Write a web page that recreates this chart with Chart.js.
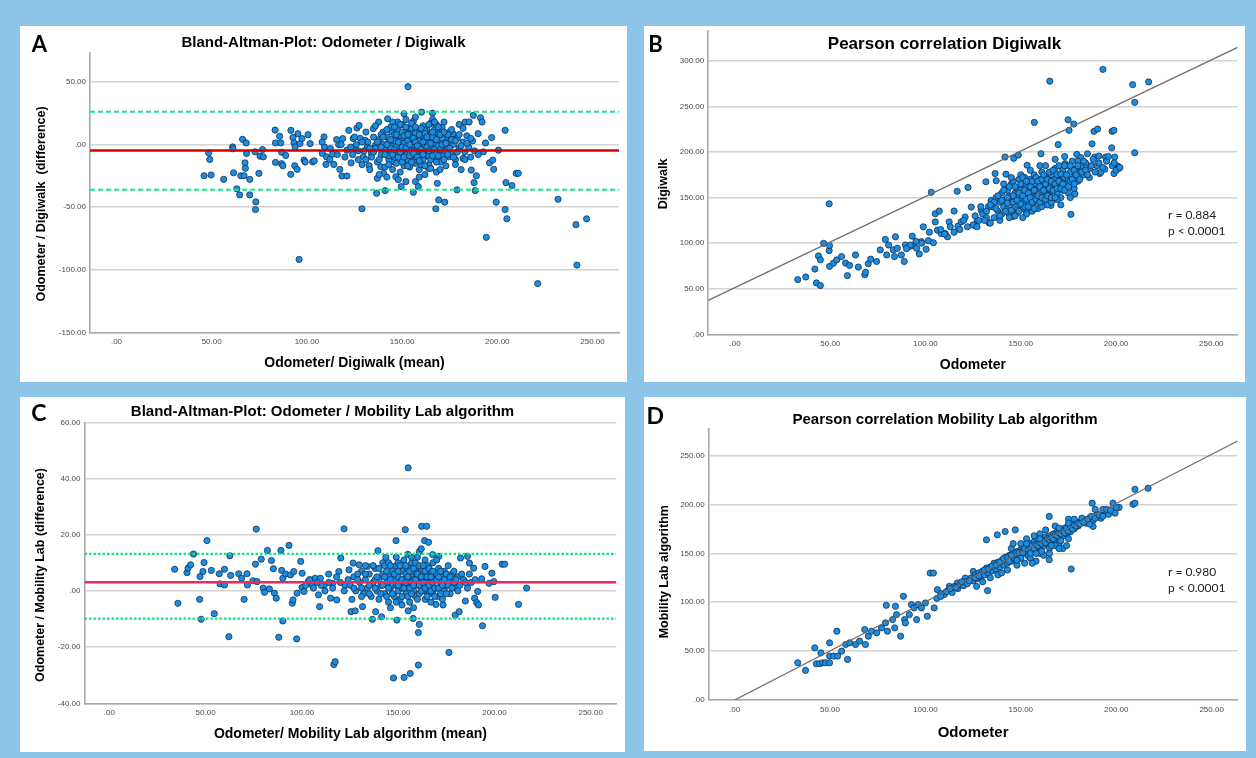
<!DOCTYPE html>
<html><head><meta charset="utf-8">
<script src="https://cdn.jsdelivr.net/npm/chart.js@4"></script>
<style>
html,body{margin:0;padding:0;background:#8CC5E7;width:1256px;height:758px;overflow:hidden;}
.panel{position:absolute;background:#fff;}
canvas{display:block;}
</style></head><body>
<div class="panel" style="left:20px;top:26px;width:607px;height:356px"><canvas id="cA" width="607" height="356"></canvas></div>
<div class="panel" style="left:644px;top:26px;width:601px;height:356px"><canvas id="cB" width="601" height="356"></canvas></div>
<div class="panel" style="left:20px;top:397px;width:605px;height:355px"><canvas id="cC" width="605" height="355"></canvas></div>
<div class="panel" style="left:644px;top:397px;width:602px;height:354px"><canvas id="cD" width="602" height="354"></canvas></div>
<script>
// ---------- DATA ----------
const xTickValues = [0, 50, 100, 150, 200, 250];
const yTicksA = [-150, -100, -50, 0, 50];
const yTicksB = [0, 50, 100, 150, 200, 250, 300];
const yTicksC = [-40, -20, 0, 20, 40, 60];
const yTicksD = [0, 50, 100, 150, 200, 250];

// A: Bland-Altman Odometer / Digiwalk  [mean, difference]
const baDigiwalk = [
[46,-24.9],[48.4,-6.6],[49,-11.9],[49.7,-24.3],[56.3,-27.8],[61,-1.9],[61.2,-3.4],[61.5,-22.5],[63.2,-35.4],[64.7,-40.2],
[65.3,-24.9],[66.2,4.2],[67,-24.9],[67.5,-14.6],[67.7,-19],[68.1,1.3],[68.3,-7.1],[70,-27.8],[70,-40.2],[72.8,-5.8],
[73.2,-45.8],[73,-51.9],[74.8,-23],[75.4,-9.3],[76.7,-4],[77.1,-9.8],[83.3,11.6],[83.5,1.3],[83.5,-14.3],[85.7,6.6],
[86.3,1.3],[86.7,-6.1],[86.7,-15.3],[87.4,-16.9],[88.9,-8.7],[91.5,-23.8],[91.6,11.4],[92.7,5.6],[93.2,1.3],[93.6,-16.9],
[93.8,-1.9],[94.9,-19.8],[95.3,8.7],[95.9,-91.8],[96.4,0.8],[97.4,4.8],[98.5,-12.4],[99.1,-14],[100.6,7.9],[101.7,0.8],
[103,-13.8],[103.9,-13],[108.1,-7.1],[109,6.1],[109.2,-1.9],[110,-15.9],[110.3,-9.8],[112.4,-3.2],[113.5,-7.7],[114.1,-15.9],
[115.6,4],[116.7,0],[117.3,-19.8],[118.4,-25.1],[118.8,4.8],[121,-25.1],[121,-4.5],[122,11.4],[123.2,-14.6],[124.3,4.8],
[125.3,-3.2],[126.3,13.2],[127.4,15.3],[128.9,-51.3],[129.6,-9.8],[130.6,3.4],[131.7,-1.9],[132.7,-16.9],[133.8,-7.1],[134.9,12.7],
[136,-0.5],[136.6,-38.9],[137,-27],[137.7,18],[138.8,-17.7],[140.3,-23],[141.1,-36.8],[142.4,20.6],[143.5,-7.1],[144.5,10.1],
[145.6,-13.8],[146.7,-25.7],[147.7,18],[149.5,-33.6],[151,24.6],[152,-29.6],[153.1,46.3],[153.7,3.4],[154.8,8.7],[155.9,-38.1],
[157,-29.6],[158.5,-33.6],[160.2,25.9],[161.7,-9.8],[163.8,-19],[166,25.1],[167.7,-51.3],[168.5,-31],[169.2,-44.2],[170.2,11.4],
[172.4,-46],[174.5,-9.8],[176.7,8.7],[178.8,-36.2],[180,16.1],[182,-11.1],[183.1,18],[185.2,18],[186.3,-20.4],[187.4,23.3],
[187.8,-30.4],[188.4,-36.8],[189,-24.9],[189.9,8.7],[191.2,21.4],[192,18],[192.7,-5.8],[193.8,1.3],[194.2,-74.1],[195.9,-14.6],
[197,5.6],[197.6,-12.4],[198.1,-19.8],[199.4,-46],[200.6,-4.5],[204.1,11.4],[204.1,-51.9],[204.5,-30.4],[205,-59.3],[207.7,-32.8],
[209.9,-23],[211,-23],[221.2,-111.1],[231.9,-43.7],[241.3,-64],[241.8,-96.3],[246.9,-59.3],
[130,-5],[132,2],[134,-10],[135,6],[136,-3],[137,-14],[138,4],[139,-8],[140,0],[140,10],[141,-18],[141,-4],[142,6],[143,-12],
[143,2],[144,-6],[144,14],[145,-20],[145,-1],[146,8],[146,-10],[147,3],[147,-15],[148,-5],[148,11],[149,-2],[149,-22],[150,5],
[150,-9],[150,16],[151,-4],[151,1],[152,-13],[152,9],[153,-7],[153,3],[154,-18],[154,13],[155,-2],[155,6],[155,-10],[156,0],
[156,19],[157,-6],[157,-15],[158,4],[158,10],[159,-3],[159,-20],[160,1],[160,7],[160,-8],[161,15],[161,-12],[162,-1],[162,4],
[163,-5],[163,12],[164,-16],[164,2],[165,8],[165,-7],[166,-2],[166,20],[167,5],[167,-11],[168,0],[168,-22],[169,9],[169,-4],
[170,3],[170,-14],[171,14],[171,-6],[172,-1],[173,6],[173,-17],[174,-3],[175,2],[175,10],[176,-8],[177,0],[178,-12],[179,5],
[180,-3],[181,-20],[182,2],[183,-6],[184,7],[185,-2],[186,-10],[188,-5],[124,-8],[126,0],[127,-12],[128,5],[129,-16],[131,10],
[133,-20],[136,15],[138,-24],[142,-26],[145,18],[148,-28],[152,20],[157,22],[159,-26],[162,-24],[165,17],[170,-20],[172,18],
[176,12],[178,-16],[182,13],[187,3],[190,-8],[139,8],[147,-1],[153,-12],[158,-3],[163,1],[167,12],[171,-9],[161,-5],[157,9],
[151,-17],[146,3],[144,-3],[149,7],[154,-5],[156,-13],[159,3],[164,-9],[166,6],[169,-1],[174,8],[177,4],[143,-9],[150,-14],
[160,-16],[165,-19],[155,13],[162,11],[168,16],[171,5],
[135,-6],[137,2],[138,-12],[139,-2],[140,6],[141,-8],[142,0],[142,12],[143,-16],[144,4],[145,-8],[146,-4],[146,14],[147,8],
[148,-10],[148,2],[149,-6],[149,16],[150,-2],[150,10],[151,-10],[151,7],[152,-3],[152,14],[153,-17],[153,8],[154,0],[154,-9],
[155,-14],[155,17],[156,5],[156,-7],[157,2],[157,14],[158,-10],[158,-1],[159,8],[159,-13],[160,-4],[160,13],[161,2],[161,-8],
[162,9],[162,-17],[163,-2],[163,6],[164,-5],[164,16],[165,1],[165,-12],[166,10],[166,-9],[167,-4],[167,18],[168,4],[168,-14],
[169,-9],[169,14],[170,-4],[170,8],[171,0],[172,-12],[172,10],[173,1],[174,-8],[175,-3],[176,4],[177,-10],[178,3],[179,-6],
[180,8],[181,-1],[183,-12],[184,1],[186,5],[133,-3],[131,-12],[129,2],[127,-5],[125,6],[123,-2],[120,-10],[118,0],[116,-8],
[112,-12],[108,2]
];
const meanDiffA = -4.8;
const limitsA = [26.2, -36.1];

// B: Pearson correlation Digiwalk  [Odometer, Digiwalk]
const corrDigiwalk = [
[32.9,60],[37.1,62.9],[41.9,71.6],[42.7,56.4],[43.8,86],[44.8,81.7],[44.8,53.5],[46.5,99.8],[49.4,143.2],[49.4,91.8],
[49.6,97.3],[49.6,74.5],[51.7,78.1],[53.4,81.7],[55.9,85.3],[58,78.1],[59,64.4],[60.1,75.6],[63.2,87.1],[64.7,73.8],
[68.1,65.4],[68.5,68],[69.9,77.4],[71.2,82.4],[74.3,79.9],[76.2,92.6],[78.9,104.1],[79.6,87.1],[80.6,98],[83.1,92.6],
[83.7,85.3],[84.2,107],[85.2,94.4],[87.3,87.1],[88.8,79.9],[89.4,98],[91.5,96.2],[93,107.7],[94,96.9],[95.3,94.4],
[96.7,88.2],[97.8,101.6],[98.8,117.9],[100.3,93.3],[101.5,102.7],[103,155.8],[104.1,100.5],[105.1,123.3],[105.1,132.3],[106.2,114.2],
[107.2,135.2],[108.2,110.6],[110.3,110.6],[111.5,107],[112.4,123.3],[115,135.2],[116.6,156.9],[117,118.6],[118.7,123.3],[120.8,128.7],
[122.3,161.2],[124,139.6],[125.4,119.7],[127.1,125.1],[129.2,135.9],[131.7,167.4],[133.4,122.2],[134.4,146.8],[136.5,176.4],[137.1,168.5],
[141.7,194.5],[142.2,175.7],[143.8,132.3],[145.9,129.4],[146.3,193.1],[148.7,196.7],[152.9,134.1],[153.3,185.5],[157.1,232.5],[160.6,198.1],
[164.8,169.2],[165.2,277.7],[165.8,141.4],[169.6,208.2],[173.2,187.3],[174.8,235.4],[175.3,223.8],[176.3,131.6],[177.8,230.7],[178.4,154],
[179.4,197.4],[181.5,193.8],[184.7,179.3],[187.4,209],[188.4,222.7],[188.9,194.5],[190.3,225.2],[191,195.6],[191.4,176.4],[193.1,290.7],
[194.1,181.1],[194.5,194.5],[197.7,204.6],[197.9,222.7],[198.9,223.8],[198.9,176.4],[199.3,194.5],[200.8,184.7],[201.6,182.2],[208.7,274],
[209.8,199.2],[209.8,254.5],[217.1,276.9],
[135,140],[136,128],[137,150],[138,135],[139,145],[140,155],[140,132],[141,140],[142,148],[142,160],[143,137],[144,152],[144,128],
[145,145],[145,165],[146,138],[147,155],[147,148],[148,133],[148,160],[149,170],[149,142],[150,150],[150,158],[151,138],[151,165],
[152,146],[152,172],[153,155],[153,132],[154,162],[154,148],[155,140],[155,170],[156,155],[156,160],[157,145],[157,175],[158,152],
[158,165],[159,138],[159,160],[160,170],[160,150],[161,158],[161,178],[162,145],[162,165],[163,155],[163,172],[164,160],[164,142],
[165,168],[165,152],[166,175],[166,158],[167,163],[167,148],[168,170],[168,182],[169,155],[169,165],[170,175],[170,160],[171,150],
[171,168],[172,180],[172,158],[173,172],[174,165],[174,185],[175,155],[175,170],[176,178],[177,162],[177,190],[178,172],[179,182],
[180,168],[181,178],[182,185],[183,175],[184,188],[186,182],[188,192],[190,185],[192,178],[195,190],[198,185],[200,180],[128,125],
[130,132],[132,128],[133,140],[134,122],[125,120],[126,130],[122,118],[120,125],[118,115],[115,112],[113,118],[110,110],[108,115],
[102,112],[98,100],[95,102],[92,98],[90,94],[139,125],[143,158],[146,168],[152,140],[157,150],[161,140],[166,145],[171,142],
[176,150],[178,160],[180,190],[186,172],[185,198],[150,175],[155,180],[160,185],[145,172],[141,165],[163,185],[168,192],[173,195],
[151,128],[147,130],[156,135],[162,150],[169,148],
[136,145],[137,138],[138,152],[139,130],[140,147],[141,158],[142,135],[143,150],[143,144],[144,162],[145,136],[146,152],[146,145],
[147,162],[148,147],[149,155],[149,135],[150,165],[150,143],[151,152],[151,172],[152,158],[153,148],[153,168],[154,140],[154,155],
[155,162],[155,150],[156,168],[156,145],[157,158],[157,138],[158,172],[158,148],[159,152],[159,168],[160,162],[160,145],[161,150],
[161,170],[162,158],[162,175],[163,148],[163,165],[164,170],[164,152],[165,160],[165,178],[166,150],[166,168],[167,158],[167,180],
[168,150],[168,165],[169,175],[169,160],[170,168],[170,185],[171,160],[171,176],[172,165],[173,158],[173,185],[174,175],[175,162],
[176,168],[176,185],[177,170],[178,180],[178,165],[179,175],[180,185],[181,170],[182,178],[183,190],[184,180],[185,175],[187,185],
[189,178],[191,188],[193,183],[196,195],[199,188],[202,183],[132,135],[134,142],[131,125],[129,140],[127,118]
];
const fitLineB = [[-14.1, 37.2], [263.8, 314.9]];
const statsB = ['r = 0.884', 'p < 0.0001'];

// C: Bland-Altman Odometer / Mobility Lab algorithm  [mean, difference]
const baMobility = [
[33.9,7.7],[35.6,-4.4],[40.3,6.5],[40.9,8.1],[42.2,9.3],[43.7,13.1],[46.9,-3],[47.1,5.1],[47.7,-10.1],[48.6,6.9],
[49.2,10.1],[50.7,17.9],[53,7.3],[54.5,-8.1],[57.1,6.1],[57.5,2.5],[59.8,7.7],[59.8,2.1],[62.1,-16.3],[62.6,12.5],
[63,5.5],[67.2,6.1],[68.7,4.5],[70,-3],[71.5,6.1],[71.7,2.1],[74.6,3.6],[75.9,9.5],[76.3,22],[76.7,3.3],
[78.9,11.3],[79.9,1],[80.6,-0.5],[82.1,14.4],[83.1,0.7],[84.2,10.8],[85.2,7.9],[85.7,-0.8],[86.7,-2.6],[88,-16.5],
[89.1,14.4],[89.5,7.3],[90.1,4.5],[90.1,-10.7],[91.6,6],[93.3,16.2],[94.1,5.7],[95,-4.4],[95.4,-3.2],[95.8,6.9],
[97.3,-17.1],[97.5,-0.8],[99.4,10.5],[100.1,6.3],[100.1,1.2],[101.1,-0.2],[103.3,3.3],[104.3,3.9],[105.4,2.1],[106.9,4.5],
[108.6,-1.4],[109.2,-5.6],[109.6,4.5],[111.7,2.1],[113.9,6],[114.9,-2.6],[116,2.7],[116.6,-26.2],[117.3,-25.2],[118.1,-3.2],
[119.2,6.9],[120.2,11.7],[121.9,22.1],[122.3,2.1],[124.5,7.5],[125.5,-7.4],[126.6,9.9],[127.7,-7.1],[129.8,9.3],[131.5,-5.6],
[134,8.7],[136.6,-10.1],[138.3,-7.4],[139.5,14.3],[141.4,-9.2],[143.6,11.9],[147.6,-31],[148.9,17.9],[149.3,-10.4],[153.1,-30.8],
[153.7,21.8],[155.2,-7.1],[155.2,43.8],[156.3,-29.4],[157.8,-9.8],[160.5,-14.8],[160.5,-26.4],[161,-11.9],[162.2,23],[164.8,23],
[163.7,17.9],[165.8,17.3],[167.9,12.9],[169.6,-4.8],[171.1,12.3],[173.3,-5],[176.4,-21.9],[179.6,-8.6],[181.7,-7.4],[182.4,11.7],
[184.9,-3.6],[186,12.3],[187,9.9],[189.2,8.1],[189.7,-2.6],[190.8,-4.2],[191.7,-5],[191.3,-0.2],[193.4,4.3],[193.8,-12.4],
[195.1,8.7],[197.2,2.7],[198.7,6.3],[199.7,3.3],[200.4,-2.3],[204,9.5],[205.3,9.5],[212.5,-4.8],[216.7,1],
[125,2],[127,5],[128,0],[130,3],[131,7],[132,-1],[133,4],[134,1],[135,6],[136,-2],[137,3],[138,8],[139,0],[140,4],[140,-3],
[141,2],[142,6],[142,10],[143,-1],[144,3],[145,5],[145,-4],[146,1],[147,7],[147,2],[148,-2],[148,4],[149,9],[150,0],[150,5],
[151,3],[151,-3],[152,7],[152,1],[153,11],[153,4],[154,-1],[154,6],[155,2],[155,8],[156,-4],[156,3],[157,5],[157,10],[158,0],
[158,4],[159,7],[159,-2],[160,2],[160,12],[161,5],[161,-1],[162,8],[162,3],[163,0],[163,6],[164,4],[164,-3],[165,9],[165,2],
[166,5],[166,-1],[167,7],[167,3],[168,0],[168,10],[169,4],[170,6],[170,1],[171,-2],[171,8],[172,3],[173,5],[174,0],[174,7],
[175,2],[176,4],[177,-1],[178,6],[179,3],[180,1],[181,5],[182,2],[184,4],[186,1],[188,3],[143,9],[146,-6],[149,12],[152,-5],
[155,13],[158,-6],[161,14],[164,11],[167,-4],[170,11],[173,-3],[176,9],[162,15],[157,12],[150,10],[145,10],[138,4],[135,2],
[133,9],[131,-2],[129,6],[126,-3],[124,4],[122,0],[120,3],[118,5],[116,1],[114,3],[112,0],[110,2],[108,3],[106,1],[104,4],[102,2],
[127,1],[129,4],[131,1],[133,6],[135,-1],[137,9],[138,1],[139,5],[140,8],[141,-1],[142,2],[143,5],[144,-2],[144,7],[145,1],
[146,4],[146,9],[147,-1],[148,6],[149,2],[149,-4],[150,7],[150,2],[151,9],[152,4],[152,-2],[153,1],[154,3],[154,9],[155,-2],
[155,5],[156,7],[156,1],[157,-1],[157,3],[158,8],[158,2],[159,4],[159,10],[160,-3],[160,6],[161,2],[161,9],[162,0],[162,5],
[163,3],[163,9],[164,1],[164,7],[165,-2],[165,5],[166,2],[166,8],[167,0],[167,5],[168,3],[168,7],[169,1],[169,-2],[170,4],
[171,5],[171,1],[172,7],[172,-1],[173,2],[174,4],[175,6],[175,-1],[176,2],[177,5],[178,1],[179,7],[180,4],[181,0],[183,6],
[185,3],[187,6],[190,4]
];
const meanDiffC = 3.1;
const limitsC = [13.2, -9.9];

// D: Pearson correlation Mobility Lab algorithm  [Odometer, Mobility Lab]
const corrMobility = [
[33.1,38.1],[37.2,30.3],[42,53.4],[42.9,37.1],[44.6,37.1],[45.2,48.3],[46.2,38.1],[47.7,38.1],[49.8,58.5],[49.8,38.1],
[49.8,44.9],[51.9,44.9],[53.6,70.4],[54,44.9],[56.1,50],[58.2,56.8],[59.2,41.5],[60.3,58.5],[63.4,56.8],[65.5,60.2],
[68.2,72.1],[68.6,56.8],[70.1,65.3],[71.8,70.4],[74.5,68.7],[77,73.8],[79.1,78.9],[79.5,96.9],[80.1,70.4],[82.8,82.3],
[83.9,73.8],[84.3,95.9],[84.9,87.4],[87,65.3],[88.5,106.1],[89.1,82.3],[89.5,78.9],[91.6,87.4],[92.7,97.6],[94.1,94.2],
[95.4,82.3],[96.2,97.6],[97.9,94.2],[100,99.3],[101,85.7],[102.5,129.9],[104.2,129.9],[104.6,94.2],[106.3,112.9],[108.4,107.1],
[112.6,116.3],[116.7,119.7],[120.9,124.8],[125.1,131.6],[126.8,116.3],[132,163.9],[132.6,111.9],[137.7,169],[141.8,172.4],[147.1,174.1],
[164.9,187.8],[164.9,143.5],[176.4,134],[187.4,201.4],[187.9,177.6],[198.3,201.4],[199.4,191.2],[208.8,200.3],[209.8,215.6],[216.7,216.7],
[209.8,201.4],[201.5,197],
[106,104],[108,109],[110,108],[112,112],[114,110],[115,116],[117,114],[118,118],[120,117],[121,121],[122,119],[124,125],[125,122],
[126,128],[127,124],[128,130],[129,126],[130,132],[131,128],[132,135],[133,130],[134,136],[135,132],[136,140],[137,134],[138,141],
[139,136],[140,143],[141,138],[142,146],[143,140],[144,148],[145,142],[146,150],[147,144],[148,152],[149,146],[150,154],[150,148],
[151,156],[152,150],[153,158],[154,147],[155,160],[156,152],[157,162],[158,155],[159,164],[160,156],[161,165],[162,158],[163,167],
[164,160],[165,168],[166,162],[167,170],[168,164],[169,172],[170,166],[171,174],[172,168],[173,176],[174,170],[175,178],[176,172],
[177,180],[178,175],[179,182],[180,178],[182,184],[184,181],[186,186],[188,184],[190,190],[192,186],[194,192],[196,190],[145,155],
[150,160],[155,145],[160,150],[165,155],[170,160],[175,165],[172,155],[168,158],[162,148],[158,142],[152,140],[148,138],[143,133],
[138,128],[134,125],[130,121],[140,130],[146,160],[153,165],[157,168],[160,170],[163,174],[168,178],[175,185],[178,185],[182,186],
[186,180],[189,195],[193,195],[156,140],[165,150],[170,155],[174,158],
[108,106],[111,111],[113,114],[116,115],[119,121],[123,122],[126,125],[128,127],[131,133],[133,134],[135,137],[137,138],[139,141],
[141,145],[143,146],[144,142],[146,146],[147,150],[149,151],[151,151],[152,155],[154,154],[155,156],[156,158],[157,155],[158,159],
[159,158],[160,161],[161,160],[162,163],[163,161],[164,165],[165,164],[166,166],[167,165],[168,169],[169,168],[170,171],[171,170],
[172,173],[173,171],[174,176],[175,173],[176,177],[177,175],[178,179],[179,178],[180,181],[181,180],[183,182],[185,185],[187,188],
[189,186],[191,189],[193,188],[195,195],[197,194],[200,197],[161,152],[166,158],[171,163],[145,148],[150,145],[155,150],[160,165],
[170,176],[175,181],[148,143],[153,160],[158,150]
];
const fitLineD = [[0, 0], [263.6, 265]];
const statsD = ['r = 0.980', 'p < 0.0001'];

// ---------- RENDERING ----------
const FONT = "'Liberation Sans', Arial, sans-serif";
const LETTER_FONT = "Lato, 'Open Sans', sans-serif";
const GRID = '#D3D3D3';
const AXIS = '#A9A9A9';
const TICK = '#4A4A4A';
const DOT_FILL = '#1B8EE4';
const DOT_EDGE = '#12304F';

const panelText = {
  id: 'panelText',
  afterDraw(chart, args, opts) {
    const ctx = chart.ctx;
    (opts.items || []).forEach(it => {
      ctx.save();
      ctx.font = it.font;
      ctx.fillStyle = it.color || '#000';
      ctx.textAlign = it.align || 'center';
      ctx.textBaseline = 'middle';
      ctx.translate(it.x, it.y);
      if (it.rotate) ctx.rotate(it.rotate);
      ctx.fillText(it.text, 0, 0);
      ctx.restore();
    });
  }
};
Chart.register(panelText);

const fmt = v => (v === 0 ? '.00' : Number(v).toFixed(2));
const toXY = arr => arr.map(([x, y]) => ({x, y}));

function build(p) {
  const datasets = [];
  (p.lines || []).forEach(l => datasets.push({
    data: toXY(l.data), showLine: true, pointRadius: 0, borderColor: l.color,
    borderWidth: l.width, borderDash: l.dash || [], fill: false, order: 0
  }));
  datasets.push({
    data: toXY(p.points), showLine: false, pointRadius: 3.1, pointBorderWidth: 0.8,
    pointBackgroundColor: DOT_FILL, pointBorderColor: DOT_EDGE, order: 1
  });
  const items = [
    {text: p.letter, x: p.letterX, y: p.letterY, font: 'bold ' + p.letterSize + 'px ' + LETTER_FONT},
    {text: p.yTitle, x: p.yTitleX, y: p.yTitleY, font: 'bold ' + p.yTitleSize + 'px ' + FONT, rotate: -Math.PI / 2}
  ];
  (p.stats || []).forEach((s, i) => items.push({text: s, x: p.statsX, y: p.statsY + i * 16, align: 'left', font: '12px ' + LETTER_FONT, color: '#222'}));
  new Chart(document.getElementById(p.id), {
    type: 'scatter',
    data: {datasets},
    options: {
      responsive: false, animation: false, devicePixelRatio: 1,
      layout: {padding: {left: p.pad, right: p.pad, top: 0, bottom: 0}},
      plugins: {
        legend: {display: false}, tooltip: {enabled: false},
        title: {display: true, text: p.title, color: '#000', font: {family: FONT, size: p.titleSize, weight: 'bold', lineHeight: 1.2},
                padding: {top: p.titlePadTop, bottom: p.titlePadBottom}},
        panelText: {items}
      },
      scales: {
        x: {
          type: 'linear', min: p.xMin, max: p.xMax,
          afterBuildTicks: s => { s.ticks = xTickValues.map(v => ({value: v})); },
          afterFit: s => { s.height = p.xAxisHeight; s.paddingLeft = 0; s.paddingRight = 0; },
          grid: {display: false, drawTicks: false},
          border: {display: true, color: AXIS, width: 1.6},
          ticks: {font: {family: FONT, size: 8}, color: TICK, padding: 5, maxRotation: 0, autoSkip: false, callback: fmt},
          title: {display: true, text: p.xTitle, color: '#000', font: {family: FONT, size: p.xTitleSize, weight: 'bold', lineHeight: 1.2},
                  padding: {top: 0, bottom: p.xTitlePadBottom}}
        },
        y: {
          type: 'linear', min: p.yMin, max: p.yMax,
          afterBuildTicks: s => { s.ticks = p.yTicks.map(v => ({value: v})); },
          afterFit: s => { s.width = p.yAxisWidth; s.paddingTop = 0; s.paddingBottom = 0; },
          grid: {color: GRID, lineWidth: 1.6, drawTicks: false},
          border: {display: true, color: AXIS, width: 1.6},
          ticks: {font: {family: FONT, size: 8}, color: TICK, padding: 4, autoSkip: false, callback: fmt}
        }
      }
    }
  });
}

build({
  id: 'cA', pad: 8, yAxisWidth: 62, xAxisHeight: 49.7,
  title: 'Bland-Altman-Plot: Odometer / Digiwalk', titleSize: 15, titlePadTop: 7.7, titlePadBottom: 1,
  xTitle: 'Odometer/ Digiwalk (mean)', xTitleSize: 14, xTitlePadBottom: 10.6,
  yTitle: 'Odometer / Digiwalk  (difference)', yTitleSize: 12.5, yTitleX: 22, yTitleY: 178,
  letter: 'A', letterX: 19.5, letterY: 19, letterSize: 22,
  xMin: -13.9, xMax: 263.9, yMin: -150, yMax: 73.4, yTicks: yTicksA,
  points: baDigiwalk,
  lines: [
    {data: [[-13.9, meanDiffA], [263.9, meanDiffA]], color: '#D60000', width: 2.5},
    {data: [[-13.9, limitsA[0]], [263.9, limitsA[0]]], color: '#1BE38A', width: 2, dash: [5, 3]},
    {data: [[-13.9, limitsA[1]], [263.9, limitsA[1]]], color: '#1BE38A', width: 2, dash: [5, 3]}
  ]
});

build({
  id: 'cB', pad: 7.4, yAxisWidth: 56.8, xAxisHeight: 47.7,
  title: 'Pearson correlation Digiwalk', titleSize: 17, titlePadTop: 5.5, titlePadBottom: -23.6,
  xTitle: 'Odometer', xTitleSize: 14, xTitlePadBottom: 8.6,
  yTitle: 'Digiwalk', yTitleSize: 12.5, yTitleX: 20, yTitleY: 158,
  letter: 'B', letterX: 11.5, letterY: 18.7, letterSize: 22,
  stats: statsB, statsX: 524, statsY: 189,
  xMin: -14.1, xMax: 263.8, yMin: 0, yMax: 333, yTicks: yTicksB,
  points: corrDigiwalk,
  lines: [{data: fitLineB, color: '#6E6E6E', width: 1.3}]
});

build({
  id: 'cC', pad: 8.7, yAxisWidth: 55.8, xAxisHeight: 48.7,
  title: 'Bland-Altman-Plot: Odometer / Mobility Lab algorithm', titleSize: 15, titlePadTop: 6.3, titlePadBottom: 1,
  xTitle: 'Odometer/ Mobility Lab algorithm (mean)', xTitleSize: 14, xTitlePadBottom: 9.6,
  yTitle: 'Odometer / Mobility Lab (difference)', yTitleSize: 12.5, yTitleX: 20.8, yTitleY: 178,
  letter: 'C', letterX: 18.8, letterY: 16.7, letterSize: 23,
  xMin: -12.9, xMax: 263.3, yMin: -40, yMax: 60, yTicks: yTicksC,
  points: baMobility,
  lines: [
    {data: [[-12.9, meanDiffC], [263.3, meanDiffC]], color: '#F2285A', width: 2.5},
    {data: [[-12.9, limitsC[0]], [263.3, limitsC[0]]], color: '#14E47C', width: 2.2, dash: [2.5, 2]},
    {data: [[-12.9, limitsC[1]], [263.3, limitsC[1]]], color: '#14E47C', width: 2.2, dash: [2.5, 2]}
  ]
});

build({
  id: 'cD', pad: 8.4, yAxisWidth: 56.2, xAxisHeight: 51,
  title: 'Pearson correlation Mobility Lab algorithm', titleSize: 15, titlePadTop: 14, titlePadBottom: -0.7,
  xTitle: 'Odometer', xTitleSize: 15, xTitlePadBottom: 9.3,
  yTitle: 'Mobility Lab algorithm', yTitleSize: 12.5, yTitleX: 21, yTitleY: 174.7,
  letter: 'D', letterX: 11.3, letterY: 19.3, letterSize: 23,
  stats: statsD, statsX: 524, statsY: 174.7,
  xMin: -13.6, xMax: 263.6, yMin: 0, yMax: 278, yTicks: yTicksD,
  points: corrMobility,
  lines: [{data: fitLineD, color: '#6E6E6E', width: 1.3}]
});
</script>
</body></html>
